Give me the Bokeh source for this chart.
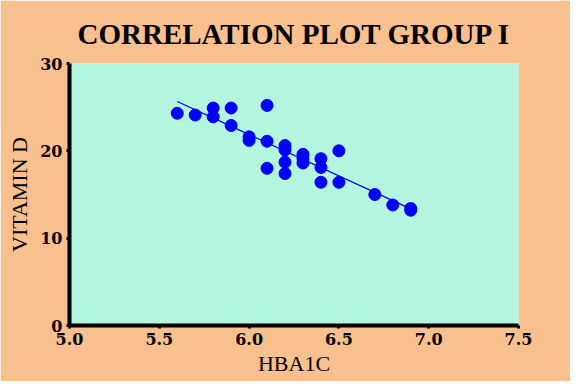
import numpy as np
from bokeh.plotting import figure
from bokeh.models import Range1d, FixedTicker, ColumnDataSource
from bokeh.embed import file_html
from bokeh.resources import INLINE

# Data
hba1c = [5.6, 5.7, 5.8, 5.8, 5.9, 5.9, 6.0, 6.0, 6.1, 6.1, 6.1,
         6.2, 6.2, 6.2, 6.2, 6.3, 6.3, 6.3, 6.4, 6.4, 6.4,
         6.5, 6.5, 6.7, 6.8, 6.9, 6.9]
vitamin_d = [24.3, 24.1, 24.9, 23.9, 24.9, 22.9, 21.6, 21.2, 25.2, 21.1, 18.0,
             20.6, 20.1, 18.7, 17.4, 19.6, 19.1, 18.6, 19.1, 18.1, 16.4,
             20.0, 16.4, 15.0, 13.8, 13.4, 13.2]

x_ticks = [5.0, 5.5, 6.0, 6.5, 7.0, 7.5]
x_tick_labels = ["5.0", "5.5", "6.0", "6.5", "7.0", "7.5"]
y_ticks = [0, 10, 20, 30]
y_tick_labels = ["0", "10", "20", "30"]

title_text = "CORRELATION PLOT GROUP I"
x_label = "HBA1C"
y_label = "VITAMIN D"

ORANGE = "#F8BF8F"
MINT = "#B3F5DF"
BLUE = "#0000FF"
SERIF = "Liberation Serif"
TICK_FONT = "DejaVu Serif"

p = figure(width=570, height=381, output_backend="svg", toolbar_location=None,
           x_range=Range1d(5.0, 7.5), y_range=Range1d(0, 30),
           min_border_left=69, min_border_right=52, min_border_top=63, min_border_bottom=56)

p.background_fill_color = MINT
p.border_fill_color = ORANGE
p.outline_line_color = None
p.xgrid.visible = False
p.ygrid.visible = False

# Title
p.title.text = title_text
p.title.text_font = SERIF
p.title.text_font_style = "bold"
p.title.text_font_size = "29px"
p.title.align = "left"
p.title.offset = 8
p.title.standoff = 27
p.title.text_color = "black"

# Axes
for ax in (p.xaxis[0], p.yaxis[0]):
    ax.axis_line_width = 4
    ax.axis_line_color = "black"
    ax.major_tick_line_width = 3
    ax.major_tick_line_color = "black"
    ax.major_tick_out = 3
    ax.major_tick_in = 0
    ax.minor_tick_line_color = None
    ax.major_label_text_font = TICK_FONT
    ax.major_label_text_font_style = "bold"
    ax.major_label_text_font_size = "16px"
    ax.major_label_text_color = "black"
    ax.axis_label_text_font = SERIF
    ax.axis_label_text_font_style = "normal"
    ax.axis_label_text_font_size = "22px"
    ax.axis_label_text_color = "black"

p.xaxis[0].ticker = FixedTicker(ticks=x_ticks)
p.xaxis[0].major_label_overrides = {t: l for t, l in zip(x_ticks, x_tick_labels)}
p.xaxis[0].axis_label = x_label
p.xaxis[0].major_label_standoff = 4
p.xaxis[0].axis_label_standoff = 3

p.yaxis[0].ticker = FixedTicker(ticks=y_ticks)
p.yaxis[0].major_label_overrides = {t: l for t, l in zip(y_ticks, y_tick_labels)}
p.yaxis[0].axis_label = y_label
p.yaxis[0].major_label_standoff = 4
p.yaxis[0].axis_label_standoff = 5

# Regression line computed from the data
slope, intercept = np.polyfit(hba1c, vitamin_d, 1)
fx = [min(hba1c), max(hba1c)]
fy = [slope * v + intercept for v in fx]
p.line(fx, fy, line_color=BLUE, line_width=1.2)

src = ColumnDataSource(dict(x=hba1c, y=vitamin_d))
p.scatter("x", "y", source=src, size=12, fill_color=BLUE, line_color=BLUE)

open("out.html", "w").write(file_html(p, INLINE))
